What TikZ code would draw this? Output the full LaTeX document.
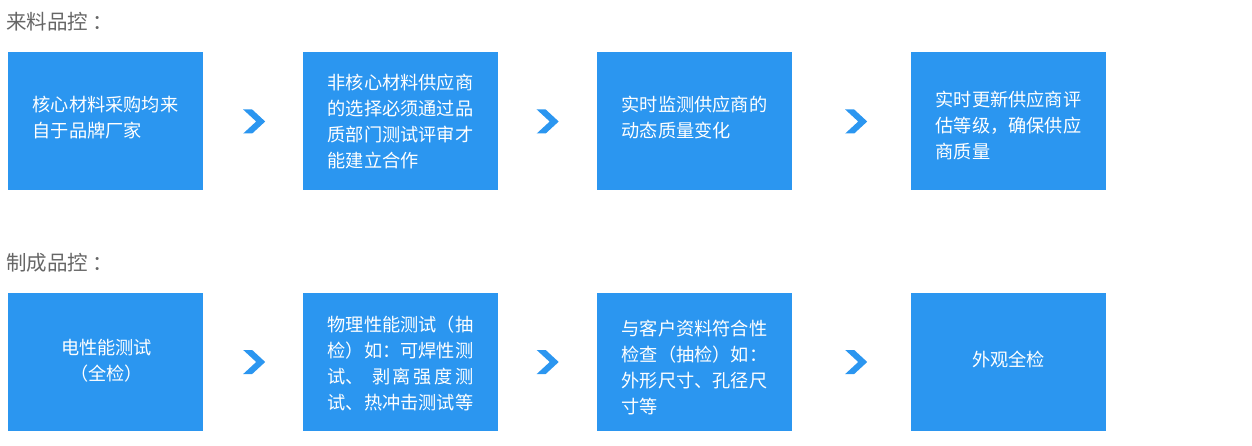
\documentclass[tikz,border=0pt]{standalone}
\usepackage{fontspec}
\newfontfamily\cjk{Noto Sans CJK SC}
\usetikzlibrary{calc}
\definecolor{blu}{RGB}{43,150,240}
\definecolor{headgray}{RGB}{102,102,102}
\tikzset{
  box/.style={fill=blu, draw=none, minimum width=195pt, minimum height=138pt, inner sep=0pt},
  txt/.style={text=white, inner sep=0pt, font=\cjk\fontsize{18.2pt}{26pt}\selectfont},
  head/.style={text=headgray, inner sep=0pt, anchor=west, font=\cjk\fontsize{20.5pt}{24pt}\selectfont},
  chevron/.pic={\fill[blu] (-11,-12) -- (-2,-12) -- (11,0) -- (-2,12) -- (-11,12) -- (2,0) -- cycle;}
}
\begin{document}
\begin{tikzpicture}[x=1pt,y=-1pt]
\useasboundingbox (0,0) rectangle (1252,446);
% headings
\node[head] (h1) at (6,22) {来料品控\hspace{4pt}：};
\node[head] (h2) at (6,263) {制成品控\hspace{4pt}：};
% row 1 boxes
\node[box] (a1) at (105.5,121) {};
\node[box] (a2) at (400.5,121) {};
\node[box] (a3) at (694.5,121) {};
\node[box] (a4) at (1008.5,121) {};
% row 2 boxes
\node[box] (b1) at (105.5,362) {};
\node[box] (b2) at (400.5,362) {};
\node[box] (b3) at (694.5,362) {};
\node[box] (b4) at (1008.5,362) {};
% row 1 texts
\node[txt, align=left] (ta1) at ($(a1.center)+(0,-3)$) {核心材料采购均来\\自于品牌厂家};
\node[txt, align=left] (ta2) at ($(a2.center)+(0,1)$) {非核心材料供应商\\的选择必须通过品\\质部门测试评审才\\能建立合作};
\node[txt, align=left] (ta3) at ($(a3.center)+(0,-3)$) {实时监测供应商的\\动态质量变化};
\node[txt, align=left] (ta4) at ($(a4.center)+(0,5)$) {实时更新供应商评\\估等级，确保供应\\商质量};
% row 2 texts
\node[txt, align=center] (tb1) at ($(b1.center)+(1,-1)$) {电性能测试\\（全检）};
\node[txt, align=left] (tb2) at ($(b2.center)+(0,1)$) {物理性能测试（抽\\检）如：可焊性测\\\makebox[145.6pt][s]{试、\hspace{8pt}剥\hfil 离\hfil 强\hfil 度\hfil 测}\\试、热冲击测试等};
\node[txt, align=left] (tb3) at ($(b3.center)+(0,6)$) {与客户资料符合性\\检查（抽检）如：\\外形尺寸、孔径尺\\寸等};
\node[txt, align=center] (tb4) at ($(b4.center)+(0,-3)$) {外观全检};
% chevrons
\pic at ($(a1.east)+(51,0.5)$) {chevron};
\pic at ($(a2.east)+(49.5,0.5)$) {chevron};
\pic at ($(a3.east)+(64,0.5)$) {chevron};
\pic at ($(b1.east)+(51,0)$) {chevron};
\pic at ($(b2.east)+(49.5,0)$) {chevron};
\pic at ($(b3.east)+(64,0)$) {chevron};
\end{tikzpicture}
\end{document}
